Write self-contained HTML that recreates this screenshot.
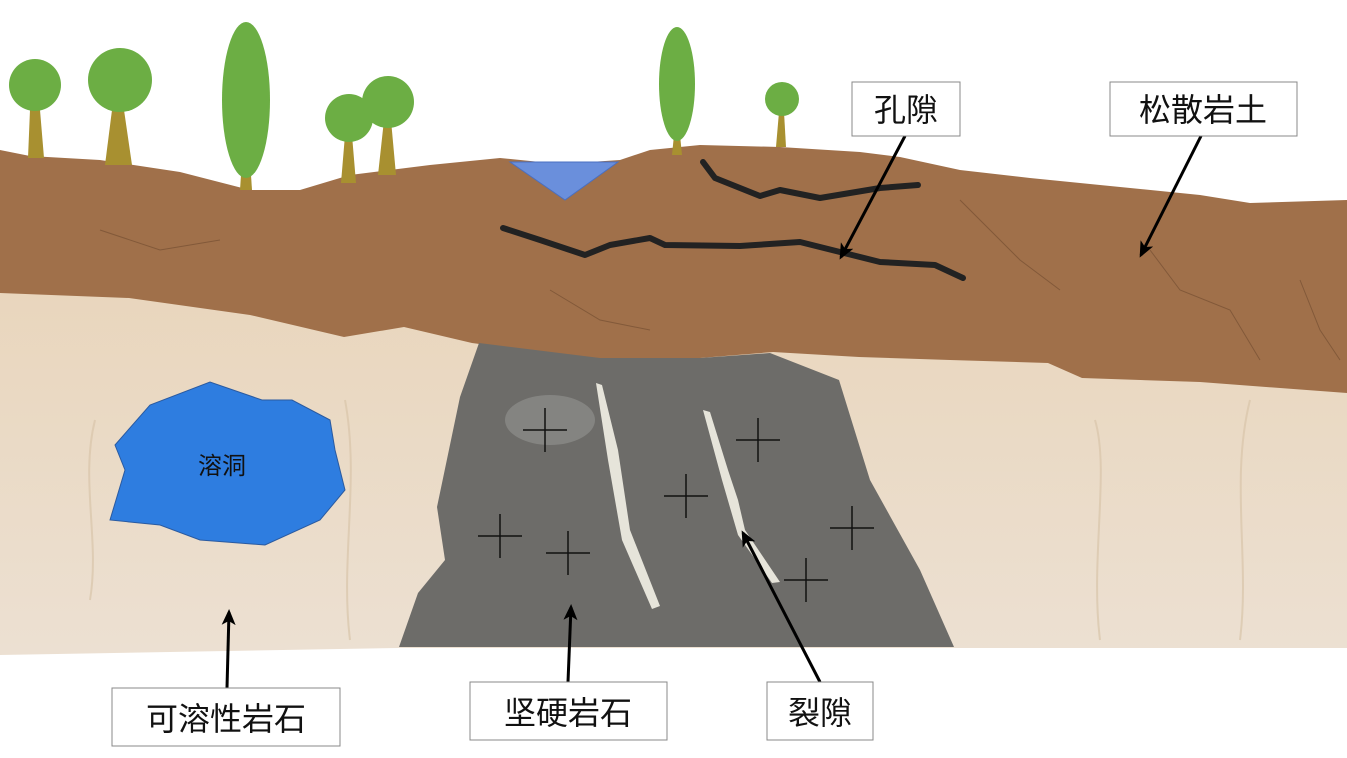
<!DOCTYPE html>
<html><head><meta charset="utf-8"><style>
html,body{margin:0;padding:0;background:#fff;}
svg{display:block;}
text{font-family:"Liberation Sans","Noto Sans CJK SC",sans-serif;}
</style></head><body>
<svg width="1347" height="758" viewBox="0 0 1347 758" xmlns="http://www.w3.org/2000/svg">
<defs>
<marker id="ah" markerWidth="16" markerHeight="14" refX="13" refY="7" orient="auto" markerUnits="userSpaceOnUse">
<path d="M0,0 L16,7 L0,14 L4,7 Z" fill="#000"/>
</marker>
<linearGradient id="beige" x1="0" y1="0" x2="0" y2="1">
<stop offset="0" stop-color="#e9d6bd"/><stop offset="1" stop-color="#ece0d2"/>
</linearGradient>
</defs>
<rect width="1347" height="758" fill="#fff"/>
<polygon points="0,293 1347,300 1347,648 960,648 398,648 0,655" fill="url(#beige)"/>
<g stroke="#d8c4aa" stroke-width="2" fill="none" opacity="0.7">
<path d="M90,600 C100,540 80,480 95,420"/><path d="M350,640 C340,560 360,480 345,400"/>
<path d="M1240,640 C1250,560 1230,480 1250,400"/><path d="M1100,640 C1090,560 1110,470 1095,420"/>
</g>
<polygon points="0,150 30,156 100,160 180,172 250,190 300,190 350,175 430,165 500,158 560,164 620,160 650,150 700,145 780,147 860,152 900,157 960,170 1030,178 1100,185 1200,195 1250,203 1347,200 1347,393 1200,382 1082,378 1048,363 950,360 859,357 773,352 700,358 601,360 472,343 404,327 344,337 250,315 129,298 0,293" fill="#a0704a"/>
<g stroke="#6e4a2e" stroke-width="1" fill="none" opacity="0.6">
<path d="M960,200 L990,230 L1020,260 L1060,290"/><path d="M1150,250 L1180,290 L1230,310 L1260,360"/>
<path d="M550,290 L600,320 L650,330"/><path d="M1300,280 L1320,330 L1340,360"/><path d="M100,230 L160,250 L220,240"/>
</g>
<polygon points="510,162 618,162 565,200" fill="#6a8fdc" stroke="#4a6fc0" stroke-width="1"/>
<g stroke="#222" stroke-width="6" fill="none" stroke-linejoin="round" stroke-linecap="round">
<path d="M703,162 L715,178 L760,196 L780,190 L820,198 L880,188 L918,185"/>
<path d="M503,228 L540,240 L585,255 L610,245 L650,238 L665,245 L740,246 L800,242 L840,252 L880,262 L935,265 L963,278"/>
</g>
<polygon points="479,343 600,358 700,358 770,353 839,380 870,480 920,570 954,647 399,647 418,593 445,560 437,507 460,397" fill="#6d6c69"/>
<ellipse cx="550" cy="420" rx="45" ry="25" fill="#8f8f8c" opacity="0.7"/>
<polygon points="596,383 602,385 618,450 630,530 660,606 652,609 622,540 608,460" fill="#e6e4da"/>
<polygon points="703,410 710,412 728,470 738,500 745,530 780,582 772,583 738,535 722,480" fill="#e6e4da"/>
<g stroke="#111" stroke-width="1.5">
<path d="M523,430 h44 M545,408 v44"/><path d="M736,440 h44 M758,418 v44"/>
<path d="M664,496 h44 M686,474 v44"/><path d="M478,536 h44 M500,514 v44"/>
<path d="M546,553 h44 M568,531 v44"/><path d="M830,528 h44 M852,506 v44"/>
<path d="M784,580 h44 M806,558 v44"/>
</g>
<polygon points="110,520 125,470 115,445 150,405 210,382 262,400 292,400 330,420 335,450 345,490 320,520 265,545 200,540 160,525" fill="#2e7de0" stroke="#2a5aa0" stroke-width="1"/>
<text x="222" y="474" font-size="24" text-anchor="middle" fill="#111">溶洞</text>
<g>
<path d="M30,110 L28,158 L44,158 L40,110Z" fill="#a89030"/>
<circle cx="35" cy="85" r="26" fill="#6cae44"/>
<path d="M112,110 L105,165 L132,165 L124,110Z" fill="#a89030"/>
<circle cx="120" cy="80" r="32" fill="#6cae44"/>
<path d="M242,160 L240,190 L252,190 L250,160Z" fill="#a89030"/>
<ellipse cx="246" cy="100" rx="24" ry="78" fill="#6cae44"/>
<path d="M345,135 L341,183 L356,183 L352,135Z" fill="#a89030"/>
<circle cx="349" cy="118" r="24" fill="#6cae44"/>
<path d="M384,120 L378,175 L396,175 L391,120Z" fill="#a89030"/>
<circle cx="388" cy="102" r="26" fill="#6cae44"/>
<path d="M674,135 L672,155 L682,155 L680,135Z" fill="#a89030"/>
<ellipse cx="677" cy="84" rx="18" ry="57" fill="#6cae44"/>
<path d="M779,112 L776,147 L786,147 L784,112Z" fill="#a89030"/>
<circle cx="782" cy="99" r="17" fill="#6cae44"/>
</g>
<g stroke="#000" stroke-width="3" fill="none" marker-end="url(#ah)">
<line x1="905" y1="136" x2="841" y2="257"/>
<line x1="1201" y1="136" x2="1141" y2="255"/>
<line x1="227" y1="688" x2="229" y2="612"/>
<line x1="568" y1="682" x2="571" y2="607"/>
<line x1="820" y1="682" x2="743" y2="533"/>
</g>
<g fill="#fff" stroke="#888" stroke-width="1">
<rect x="852" y="82" width="108" height="54"/>
<rect x="1110" y="82" width="187" height="54"/>
<rect x="112" y="688" width="228" height="58"/>
<rect x="470" y="682" width="197" height="58"/>
<rect x="767" y="682" width="106" height="58"/>
</g>
<g font-size="32" fill="#111" text-anchor="middle">
<text x="906" y="121">孔隙</text>
<text x="1203" y="121">松散岩土</text>
<text x="226" y="730">可溶性岩石</text>
<text x="568" y="724">坚硬岩石</text>
<text x="820" y="724">裂隙</text>
</g>
</svg>
</body></html>
